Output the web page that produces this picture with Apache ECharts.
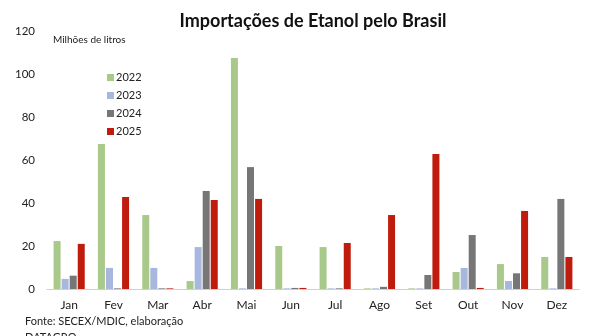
<!DOCTYPE html>
<html>
<head>
<meta charset="utf-8">
<script src="https://cdn.jsdelivr.net/npm/echarts@6/dist/echarts.min.js"></script>
<style>
  html, body { margin: 0; padding: 0; background: #ffffff; }
  #chart { width: 593px; height: 336px; }
</style>
</head>
<body>
<div id="chart"></div>
<script>
// Monthly ethanol imports into Brazil, million litres
const months = ['Jan', 'Fev', 'Mar', 'Abr', 'Mai', 'Jun', 'Jul', 'Ago', 'Set', 'Out', 'Nov', 'Dez'];
const years = ['2022', '2023', '2024', '2025'];
const v2022 = [22.3, 67.4, 34.4, 3.7, 107.4, 20.0, 19.5, 0.3, 0.3, 7.9, 11.6, 14.9];
const v2023 = [4.7, 9.8, 9.8, 19.5, 0.3, 0.3, 0.3, 0.3, 0.3, 9.8, 3.7, 0.3];
const v2024 = [6.2, 0.3, 0.3, 45.6, 56.7, 0.5, 0.3, 1.0, 6.5, 25.1, 7.3, 41.9];
const v2025 = [21.0, 42.8, 0.3, 41.4, 41.9, 0.5, 21.4, 34.4, 62.8, 0.5, 36.3, 14.9];
const yTicks = [0, 20, 40, 60, 80, 100, 120];

const colors = ['#a9c98a', '#a8b7de', '#767676', '#c01c0e'];
const seriesValues = [v2022, v2023, v2024, v2025];

const font = 'Lato, "Open Sans", sans-serif';

const chart = echarts.init(document.getElementById('chart'), null, { renderer: 'canvas' });

chart.setOption({
  animation: false,
  backgroundColor: '#ffffff',
  title: {
    text: 'Importações de Etanol pelo Brasil',
    left: 308,
    textAlign: 'center',
    top: 7,
    textStyle: { fontFamily: font, fontWeight: 'bold', fontSize: 18, color: '#111111' }
  },
  legend: {
    orient: 'vertical',
    left: 102,
    top: 67,
    itemWidth: 7,
    itemHeight: 7,
    itemGap: 7,
    icon: 'rect',
    data: years,
    textStyle: { fontFamily: font, fontSize: 11, color: '#222222', padding: [0, 0, 0, -3] }
  },
  grid: { left: 47, right: 14, top: 31, bottom: 47, containLabel: false },
  xAxis: {
    type: 'category',
    data: months,
    axisLine: { lineStyle: { color: '#d0d0d0', width: 1 } },
    axisTick: { show: false },
    axisLabel: { fontFamily: font, fontSize: 12, color: '#222222', margin: 10 }
  },
  yAxis: {
    type: 'value',
    min: yTicks[0],
    max: yTicks[yTicks.length - 1],
    interval: 20,
    splitLine: { show: false },
    axisLine: { show: false },
    axisTick: { show: false },
    axisLabel: { fontFamily: font, fontSize: 11.5, color: '#222222', margin: 12 }
  },
  graphic: [
    {
      type: 'text', left: 53, top: 35,
      style: { text: 'Milhões de litros', font: '10px ' + font, fill: '#222222' }
    },
    {
      type: 'text', left: 25, top: 313,
      style: { text: 'Fonte: SECEX/MDIC, elaboração\nDATAGRO', font: '11px ' + font, fill: '#222222', lineHeight: 16 }
    }
  ],
  series: years.map((y, i) => ({
    name: y,
    type: 'bar',
    data: seriesValues[i],
    barWidth: 7,
    barGap: '15%',
    itemStyle: { color: colors[i] }
  }))
});
</script>
</body>
</html>
